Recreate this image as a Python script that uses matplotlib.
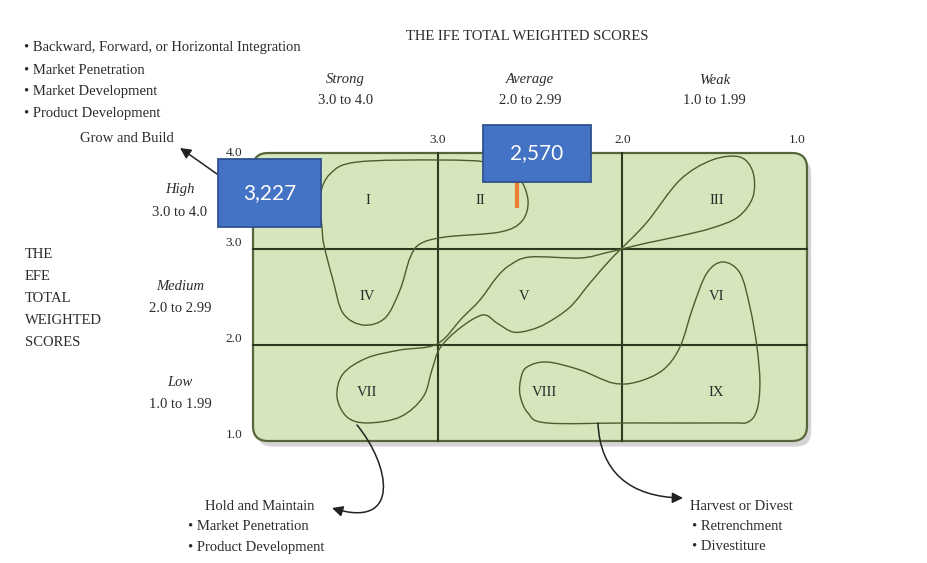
import numpy as np
import matplotlib
matplotlib.use('Agg')
import matplotlib.pyplot as plt
import matplotlib.transforms as mtransforms
import matplotlib.patheffects as pe
from matplotlib.path import Path
from matplotlib.patches import FancyBboxPatch, PathPatch, FancyArrowPatch, Rectangle

W, H = 927, 563

# IFE on the horizontal axis (strong -> weak), EFE on the vertical axis
ife_ticks = [3.0, 2.0, 1.0]
efe_ticks = [4.0, 3.0, 2.0, 1.0]
ife_bands = ['Strong', 'Average', 'Weak']
ife_ranges = ['3.0 to 4.0', '2.0 to 2.99', '1.0 to 1.99']
efe_bands = ['High', 'Medium', 'Low']
efe_ranges = ['3.0 to 4.0', '2.0 to 2.99', '1.0 to 1.99']
band_mid = [3.5, 2.5, 1.5]

cells = ['I', 'II', 'III', 'IV', 'V', 'VI', 'VII', 'VIII', 'IX']
cell_x = [3.38, 2.77, 1.49, 3.38, 2.53, 1.49, 3.38, 2.42, 1.49]
cell_y = [3.5, 3.5, 3.5, 2.5, 2.5, 2.5, 1.5, 1.5, 1.5]

ife_score = 2.570
efe_score = 3.227

# outlines of the three strategy zones, (IFE, EFE) points
grow_zone = [(3.626, 3.219), (3.637, 3.542), (3.583, 3.781), (3.437, 3.906),
             (2.987, 3.927), (2.706, 3.896), (2.565, 3.750), (2.511, 3.510),
             (2.543, 3.292), (2.662, 3.177), (2.960, 3.125), (3.096, 3.052),
             (3.150, 2.906), (3.204, 2.573), (3.285, 2.281), (3.404, 2.208),
             (3.513, 2.333), (3.567, 2.677), (3.616, 3.042)]
hold_zone = [(2.002, 3.010), (1.866, 3.281), (1.688, 3.719), (1.514, 3.927),
             (1.363, 3.958), (1.293, 3.802), (1.293, 3.542), (1.374, 3.333),
             (1.514, 3.219), (1.688, 3.135), (1.866, 3.063), (2.002, 3.000),
             (2.094, 2.958), (2.229, 2.906), (2.500, 2.917), (2.608, 2.833),
             (2.679, 2.708), (2.771, 2.469), (2.868, 2.281), (3.004, 2.010),
             (3.204, 1.948), (3.383, 1.865), (3.513, 1.698), (3.545, 1.458),
             (3.491, 1.250), (3.383, 1.188), (3.204, 1.250), (3.079, 1.458),
             (3.031, 1.740), (2.987, 1.969), (2.879, 2.177), (2.755, 2.313),
             (2.679, 2.229), (2.592, 2.135), (2.500, 2.156), (2.408, 2.229),
             (2.283, 2.396), (2.175, 2.646), (2.067, 2.885)]
harvest_zone = [(2.516, 1.771), (2.408, 1.823), (2.229, 1.740), (2.051, 1.604),
                (1.921, 1.615), (1.780, 1.740), (1.688, 1.979), (1.617, 2.396),
                (1.542, 2.750), (1.455, 2.865), (1.363, 2.750), (1.309, 2.396),
                (1.271, 1.979), (1.255, 1.604), (1.271, 1.323), (1.320, 1.198),
                (1.428, 1.188), (1.959, 1.188), (2.408, 1.188), (2.511, 1.292),
                (2.554, 1.479), (2.549, 1.656)]

grow_text = ['\u2022 Backward, Forward, or Horizontal Integration',
             '\u2022 Market Penetration', '\u2022 Market Development',
             '\u2022 Product Development']
hold_text = ['\u2022 Market Penetration', '\u2022 Product Development']
harvest_text = ['\u2022 Retrenchment', '\u2022 Divestiture']
efe_title = ['THE', 'EFE', 'TOTAL', 'WEIGHTED', 'SCORES']


def closed_curve(pts):
    # smooth closed outline through the points (Catmull-Rom as cubic Beziers)
    p = np.asarray(pts, float)
    n = len(p)
    verts, codes = [p[0]], [Path.MOVETO]
    for i in range(n):
        p0, p1, p2, p3 = p[i - 1], p[i], p[(i + 1) % n], p[(i + 2) % n]
        verts += [p1 + (p2 - p0) / 6, p2 - (p3 - p1) / 6, p2]
        codes += [Path.CURVE4] * 3
    return Path(verts, codes)


fig = plt.figure(figsize=(W / 100, H / 100), dpi=100)
fig.patch.set_facecolor('white')
x0, x1, y0, y1 = 253, 807, 153, 441
ax = fig.add_axes([x0 / W, 1 - y1 / H, (x1 - x0) / W, (y1 - y0) / H])
ax.set_xlim(4, 1)
ax.set_ylim(1, 4)
ax.axis('off')

# pixel coordinates, y downwards
pix = mtransforms.Affine2D().scale(1 / W, -1 / H).translate(0, 1) + fig.transFigure

serif = ['Liberation Serif', 'DejaVu Serif']
ink = '#2b2b2b'
fs = 10.5

# rounded matrix background
xr = 15 / ((x1 - x0) / 3)
yr = 15 / ((y1 - y0) / 3)
board = FancyBboxPatch((1, 1), 3, 3, boxstyle=f'round,pad=0,rounding_size={xr}',
                       mutation_aspect=yr / xr, facecolor='#d5e6bc',
                       edgecolor='#56663a', lw=1.6, clip_on=False, zorder=1)
board.set_path_effects([pe.SimplePatchShadow(offset=(3, -4), shadow_rgbFace='#888888',
                                             alpha=0.35), pe.Normal()])
ax.add_patch(board)

for v in [3.0, 2.0]:
    ax.plot([v, v], [1, 4], color='#2e3920', lw=1.5, zorder=2, clip_on=False)
    ax.plot([1, 4], [v, v], color='#2e3920', lw=1.5, zorder=2, clip_on=False)

for zone in [grow_zone, hold_zone, harvest_zone]:
    ax.add_patch(PathPatch(closed_curve(zone), facecolor='none', edgecolor='#4f5c2c',
                           lw=1.0, zorder=3, clip_on=False))

for name, cx, cy in zip(cells, cell_x, cell_y):
    ax.text(cx, cy, name, ha='center', va='center', fontsize=fs, family=serif,
            color=ink, zorder=4)

# axis values
top_tf = mtransforms.blended_transform_factory(ax.transData, pix)
for v in ife_ticks:
    dx = -10 if v == 1.0 else 0
    ax.text(v, 140, f'{v:.1f}', transform=top_tf + mtransforms.ScaledTranslation(dx / 100, 0, fig.dpi_scale_trans),
            ha='center', va='center', fontsize=9.5, family=serif, color=ink)
for v in efe_ticks:
    dy = 0 if v == 4.0 else 6
    left_tf = mtransforms.blended_transform_factory(
        pix, ax.transData + mtransforms.ScaledTranslation(0, dy / 100, fig.dpi_scale_trans))
    ax.text(234, v, f'{v:.1f}', transform=left_tf, ha='center', va='center',
            fontsize=9.5, family=serif, color=ink)

for name, rng, m in zip(ife_bands, ife_ranges, band_mid):
    ax.text(m, 80, name, transform=top_tf, ha='center', va='center', fontsize=fs,
            family=serif, style='italic', color=ink)
    ax.text(m, 101, rng, transform=top_tf, ha='center', va='center', fontsize=fs,
            family=serif, color=ink)
for name, rng, m in zip(efe_bands, efe_ranges, band_mid):
    for txt, dy, st in [(name, 11, 'italic'), (rng, -11, 'normal')]:
        tf = mtransforms.blended_transform_factory(
            pix, ax.transData + mtransforms.ScaledTranslation(0, dy / 100, fig.dpi_scale_trans))
        ax.text(180, m, txt, transform=tf, ha='center', va='center', fontsize=fs,
                family=serif, style=st, color=ink)

ax.text(527, 36, 'THE IFE TOTAL WEIGHTED SCORES', transform=pix, ha='center',
        va='center', fontsize=fs, family=serif, color=ink)
for i, line in enumerate(efe_title):
    ax.text(25, 255 + 21.8 * i, line, transform=pix, ha='left', va='center',
            fontsize=fs, family=serif, color=ink)

# strategy captions
for i, line in enumerate(grow_text):
    ax.text(24, 48 + 22 * i, line, transform=pix, ha='left', va='center',
            fontsize=fs, family=serif, color=ink)
ax.text(127, 138, 'Grow and Build', transform=pix, ha='center', va='center',
        fontsize=fs, family=serif, color=ink)
ax.text(260, 507, 'Hold and Maintain', transform=pix, ha='center', va='center',
        fontsize=fs, family=serif, color=ink)
for i, line in enumerate(hold_text):
    ax.text(188, 526 + 21 * i, line, transform=pix, ha='left', va='center',
            fontsize=fs, family=serif, color=ink)
ax.text(690, 506, 'Harvest or Divest', transform=pix, ha='left', va='center',
        fontsize=fs, family=serif, color=ink)
for i, line in enumerate(harvest_text):
    ax.text(692, 526 + 21 * i, line, transform=pix, ha='left', va='center',
            fontsize=fs, family=serif, color=ink)

# arrows from the zones to their captions
arrows = [
    [(262, 203), (230, 185), (205, 165), (180, 148)],
    [(357, 425), (390, 465), (402, 530), (332, 508)],
    [(598, 423), (600, 472), (630, 497), (683, 498)],
]
for a in arrows:
    path = Path(a, [Path.MOVETO, Path.CURVE4, Path.CURVE4, Path.CURVE4])
    ax.add_patch(FancyArrowPatch(path=path, transform=pix, arrowstyle='-|>',
                                 mutation_scale=16, color='#222222', lw=1.1,
                                 shrinkA=0, shrinkB=0, zorder=5, clip_on=False))

# score call-outs
blue, blue_edge = '#4472c4', '#2f528f'
bw = 103 / ((x1 - x0) / 3)
bh = 68 / ((y1 - y0) / 3)
ax.add_patch(Rectangle((4 + 35 / ((x1 - x0) / 3), efe_score), -bw, bh, facecolor=blue,
                       edgecolor=blue_edge, lw=1.3, zorder=6, clip_on=False))
ax.text(4 + 35 / ((x1 - x0) / 3) - bw / 2, efe_score + bh / 2, f'{efe_score:,.3f}'.replace('.', ','),
        ha='center', va='center', fontsize=15, family=['Lato', 'DejaVu Sans'],
        color='white', zorder=7)

tip = 3.427
top = 3.698
ax.plot([ife_score, ife_score], [tip, top], color='#ed7d31', lw=3, zorder=6,
        solid_capstyle='butt', clip_on=False)
bx = 2.755
bw2 = 108 / ((x1 - x0) / 3)
bh2 = 57 / ((y1 - y0) / 3)
ax.add_patch(Rectangle((bx, top), -bw2, bh2, facecolor=blue, edgecolor=blue_edge,
                       lw=1.3, zorder=6, clip_on=False))
ax.text(bx - bw2 / 2, top + bh2 / 2, f'{ife_score:,.3f}'.replace('.', ','),
        ha='center', va='center', fontsize=15, family=['Lato', 'DejaVu Sans'],
        color='white', zorder=7)

fig.savefig('out.png', dpi=100, facecolor='white')
